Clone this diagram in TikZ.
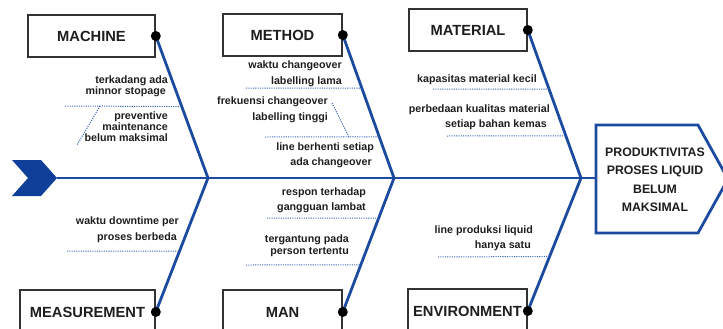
\documentclass[tikz,border=0pt]{standalone}
\usepackage{fontspec}
\setmainfont{Liberation Sans}
\usetikzlibrary{calc}
\definecolor{bonec}{HTML}{1B4A9E}
\definecolor{chevc}{HTML}{0F3F98}
\definecolor{dotc}{HTML}{3A68BA}
\definecolor{boxc}{HTML}{333333}
\definecolor{txtc}{HTML}{1E1E1E}
\newcommand{\catfont}{\fontsize{14.7}{17}\selectfont\bfseries}
\newcommand{\causefont}{\fontsize{10.7}{12}\selectfont\bfseries}
\newcommand{\headfont}{\fontsize{12.3}{18.5}\selectfont\bfseries}
\begin{document}
\begin{tikzpicture}[x=1pt,y=-1pt,
 bone/.style={draw=bonec,line width=2.8pt},
 dotl/.style={draw=dotc,line width=1pt,dash pattern=on 1.1pt off 1.2pt},
 catbox/.style={draw=boxc,line width=1.6pt,fill=white,font=\catfont,text=txtc,inner sep=0pt,minimum height=42pt},
 cause/.style={font=\causefont,text=txtc,inner sep=0pt,anchor=mid east},
 jdot/.style={circle,fill=black,inner sep=0pt,minimum size=10pt}]
\useasboundingbox (0,0) rectangle (723,329);

% chevron tail
\fill[chevc] (12,160) -- (41,160) -- (57,178) -- (41,196) -- (12,196) -- (28,178) -- cycle;
\coordinate (tail) at (57,178);
\coordinate (headw) at (596,178);
\coordinate (J1) at (208,178);
\coordinate (J2) at (394,178);
\coordinate (J3) at (581,178);

% category boxes
\node[catbox,minimum width=127pt] (mach) at (91.5,36) {MACHINE};
\node[catbox,minimum width=119pt] (meth) at (282.5,35) {METHOD};
\node[catbox,minimum width=118pt] (mate) at (468,30) {MATERIAL};
\node[catbox,minimum width=135pt,minimum height=44pt] (meas) at (87.5,312) {MEASUREMENT};
\node[catbox,minimum width=119pt,minimum height=44pt] (man) at (282.5,312) {MAN};
\node[catbox,minimum width=119pt,minimum height=44pt] (env) at (467.5,311) {ENVIRONMENT};

% spine
\draw[bone] (tail) -- (headw);

% bones
\draw[bone] (mach.east) -- (J1);
\draw[bone] (meth.east) -- (J2);
\draw[bone] (mate.east) -- (J3);
\draw[bone] (J1) -- (meas.east);
\draw[bone] (J2) -- (man.east);
\draw[bone] (J3) -- (env.east);

% head
\draw[bonec,line width=2.8pt,fill=white] (596,125) -- (698,125) -- (728,179) -- (698,233) -- (596,233) -- cycle;
\node[font=\headfont,text=txtc,align=center,inner sep=0pt] (head) at (655,180)
 {PRODUKTIVITAS\\PROSES LIQUID\\BELUM\\MAKSIMAL};

% dots
\node[jdot] (dmach) at (mach.east) {};
\node[jdot] (dmeth) at (meth.east) {};
\node[jdot] (dmate) at (mate.east) {};
\node[jdot] (dmeas) at (meas.east) {};
\node[jdot] (dman) at (man.east) {};
\node[jdot] (denv) at (env.east) {};

% machine causes
\node[cause] (m1a) at (168,81) {terkadang ada};
\node[cause] (m1b) at (166,92) {minnor stopage};
\coordinate (m1s) at (65,106);
\draw[dotl] (m1s) -- ($(dmach)!0.497!(J1)$);
\coordinate (m2s) at (100,106);
\coordinate (m2e) at (77,145);
\draw[dotl] (m2s) -- (m2e);
\node[cause] (m2a) at (168,117) {preventive};
\node[cause] (m2b) at (168,128) {maintenance};
\node[cause] (m2c) at (168,139) {belum maksimal};

% method causes
\node[cause] (t1a) at (342,66) {waktu changeover};
\node[cause] (t1b) at (342,82) {labelling lama};
\coordinate (t1s) at (246,88);
\draw[dotl] (t1s) -- ($(dmeth)!0.371!(J2)$);
\node[cause] (t2a) at (328,102) {frekuensi changeover};
\node[cause] (t2b) at (328,118) {labelling tinggi};
\coordinate (t2s) at (332,103);
\coordinate (t2k) at (349,137);
\draw[dotl] (t2s) -- (t2k);
\coordinate (t3s) at (265,137);
\draw[dotl] (t3s) -- ($(dmeth)!0.713!(J2)$);
\node[cause] (t3a) at (374,148) {line berhenti setiap};
\node[cause] (t3b) at (372,163) {ada changeover};

% material causes
\node[cause] (a1) at (537,80) {kapasitas material kecil};
\coordinate (a1s) at (433,89);
\draw[dotl] (a1s) -- ($(dmate)!0.399!(J3)$);
\node[cause] (a2a) at (550,110) {perbedaan kualitas material};
\node[cause] (a2b) at (547,125) {setiap bahan kemas};
\coordinate (a2s) at (447,136);
\draw[dotl] (a2s) -- ($(dmate)!0.716!(J3)$);

% measurement causes
\node[cause] (s1a) at (179,222) {waktu downtime per};
\node[cause] (s1b) at (177,238) {proses berbeda};
\coordinate (s1s) at (67,251);
\draw[dotl] (s1s) -- ($(J1)!0.545!(dmeas)$);

% man causes
\node[cause] (n1a) at (366,193) {respon terhadap};
\node[cause] (n1b) at (366,208) {gangguan lambat};
\coordinate (n1s) at (267,218);
\draw[dotl] (n1s) -- ($(J2)!0.299!(dman)$);
\node[cause] (n2a) at (349,240) {tergantung pada};
\node[cause] (n2b) at (349,252) {person tertentu};
\coordinate (n2s) at (246,265);
\draw[dotl] (n2s) -- ($(J2)!0.649!(dman)$);

% environment causes
\node[cause] (e1a) at (533,231) {line produksi liquid};
\node[cause] (e1b) at (531,246) {hanya satu};
\coordinate (e1s) at (438,257);
\draw[dotl] (e1s) -- ($(J3)!0.590!(denv)$);
\end{tikzpicture}
\end{document}
